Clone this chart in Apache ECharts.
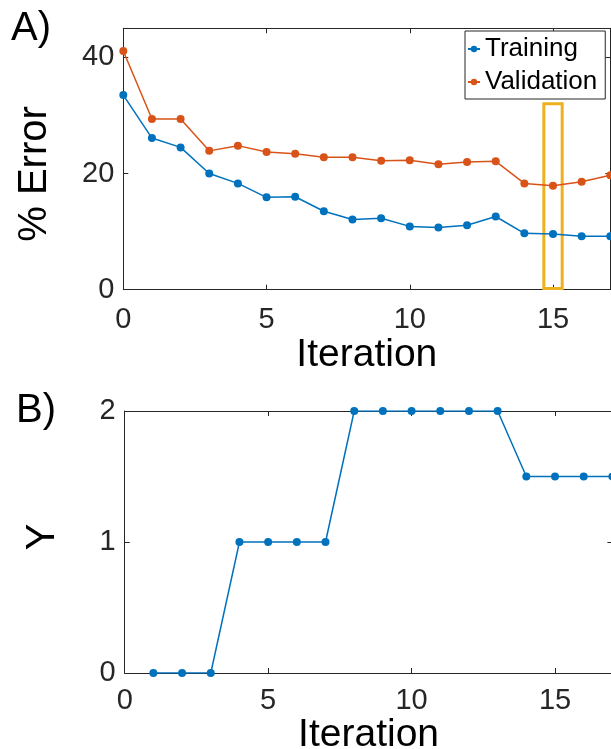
<!DOCTYPE html>
<html>
<head>
<meta charset="utf-8">
<script src="https://cdn.jsdelivr.net/npm/echarts@6/dist/echarts.min.js"></script>
<style>
  html, body { margin: 0; padding: 0; background: #fff; }
  #chart { width: 611px; height: 749px; }
</style>
</head>
<body>
<div id="chart"></div>
<script>
// data
var iterations = [0, 1, 2, 3, 4, 5, 6, 7, 8, 9, 10, 11, 12, 13, 14, 15, 16, 17];
var training = [33.5, 26.1, 24.5, 20.0, 18.3, 15.9, 16.0, 13.5, 12.1, 12.3, 10.9, 10.7, 11.1, 12.6, 9.7, 9.6, 9.2, 9.2];
var validation = [41.1, 29.4, 29.4, 23.9, 24.8, 23.7, 23.4, 22.8, 22.8, 22.2, 22.3, 21.6, 22.0, 22.1, 18.3, 17.9, 18.6, 19.7];
var gammaIter = [1, 2, 3, 4, 5, 6, 7, 8, 9, 10, 11, 12, 13, 14, 15, 16, 17];
var gamma = [0, 0, 0, 1, 1, 1, 1, 2, 2, 2, 2, 2, 2, 1.5, 1.5, 1.5, 1.5];
// highlighted iteration box: [xmin, ymin], [xmax, ymax]
var boxLow = [14.68, 0.2];
var boxHigh = [15.32, 32];

var blue = '#0072BD', orange = '#D95319', yellow = '#EDB120';
var axisCol = '#262626';
var font = '"Liberation Sans", Arial, Helvetica, sans-serif';

function pairs(xs, ys) {
    var out = [];
    for (var i = 0; i < xs.length; i++) out.push([xs[i], ys[i]]);
    return out;
}

function xAx(gi, pos, show, margin) {
    return {
        type: 'value', gridIndex: gi, position: pos, min: 0, max: 17, interval: 5,
        axisLine: { show: true, onZero: false, lineStyle: { color: axisCol, width: 1 } },
        axisTick: { show: true, inside: true, length: 5, lineStyle: { color: axisCol } },
        axisLabel: { show: show, margin: margin, fontSize: 29, color: axisCol, fontFamily: font, showMaxLabel: false },
        splitLine: { show: false }
    };
}
function yAx(gi, pos, show, max, step) {
    return {
        type: 'value', gridIndex: gi, position: pos, min: 0, max: max, interval: step,
        axisLine: { show: true, onZero: false, lineStyle: { color: axisCol, width: 1 } },
        axisTick: { show: true, inside: true, length: 5, lineStyle: { color: axisCol } },
        axisLabel: { show: show, margin: 9, fontSize: 29, color: axisCol, fontFamily: font, showMaxLabel: max === 2 },
        splitLine: { show: false }
    };
}

var chart = echarts.init(document.getElementById('chart'));
var xs = [xAx(0, 'bottom', true, 16), xAx(0, 'top', false, 0), xAx(1, 'bottom', true, 13), xAx(1, 'top', false, 0)];
xs[0].name = 'Iteration'; xs[0].nameLocation = 'middle'; xs[0].nameGap = 46;
xs[0].nameTextStyle = { fontSize: 39, color: '#000', fontFamily: font };
xs[2].name = 'Iteration'; xs[2].nameLocation = 'middle'; xs[2].nameGap = 34;
xs[2].nameTextStyle = { fontSize: 39, color: '#000', fontFamily: font };

chart.setOption({
    animation: false,
    textStyle: { fontFamily: font },
    grid: [
        { left: 123.3, top: 28.3, width: 487, height: 261.4, outerBoundsMode: 'none' },
        { left: 124.7, top: 411, width: 487.7, height: 262, outerBoundsMode: 'none' }
    ],
    xAxis: xs,
    yAxis: [yAx(0, 'left', true, 45, 20), yAx(0, 'right', false, 45, 20), yAx(1, 'left', true, 2, 1), yAx(1, 'right', false, 2, 1)],
    legend: {
        data: ['Training', 'Validation'],
        orient: 'vertical', left: 465, top: 31,
        padding: [5, 8, 4, 2], itemGap: 7, itemWidth: 12, itemHeight: 8,
        backgroundColor: '#fff', borderColor: axisCol, borderWidth: 1, borderRadius: 0,
        textStyle: { fontSize: 26, color: '#000', fontFamily: font }
    },
    graphic: [
        { type: 'text', left: 11, top: 9, style: { text: 'A)', fontSize: 40, fill: '#000', fontFamily: font } },
        { type: 'text', left: 16, top: 391, style: { text: 'B)', fontSize: 40, fill: '#000', fontFamily: font } },
        { type: 'text', x: 35, y: 174, rotation: Math.PI / 2,
          style: { text: '% Error', fontSize: 40, fill: '#000', fontFamily: font, align: 'center', verticalAlign: 'middle' } },
        { type: 'text', x: 43, y: 537, rotation: Math.PI / 2,
          style: { text: 'Y', fontSize: 40, fill: '#000', fontFamily: font, align: 'center', verticalAlign: 'middle' } }
    ],
    series: [
        {
            name: 'Training', type: 'line', xAxisIndex: 0, yAxisIndex: 0,
            data: pairs(iterations, training), symbol: 'circle', symbolSize: 8,
            itemStyle: { color: blue }, lineStyle: { color: blue, width: 1.5 }
        },
        {
            name: 'Validation', type: 'line', xAxisIndex: 0, yAxisIndex: 0,
            data: pairs(iterations, validation), symbol: 'circle', symbolSize: 8,
            itemStyle: { color: orange }, lineStyle: { color: orange, width: 1.5 },
            markArea: {
                silent: true,
                itemStyle: { color: 'rgba(0,0,0,0)', borderColor: yellow, borderWidth: 3 },
                data: [[{ coord: boxLow }, { coord: boxHigh }]]
            }
        },
        {
            name: 'gamma', type: 'line', xAxisIndex: 2, yAxisIndex: 2,
            data: pairs(gammaIter, gamma), symbol: 'circle', symbolSize: 8,
            itemStyle: { color: blue }, lineStyle: { color: blue, width: 1.5 }
        }
    ]
});
</script>
</body>
</html>
